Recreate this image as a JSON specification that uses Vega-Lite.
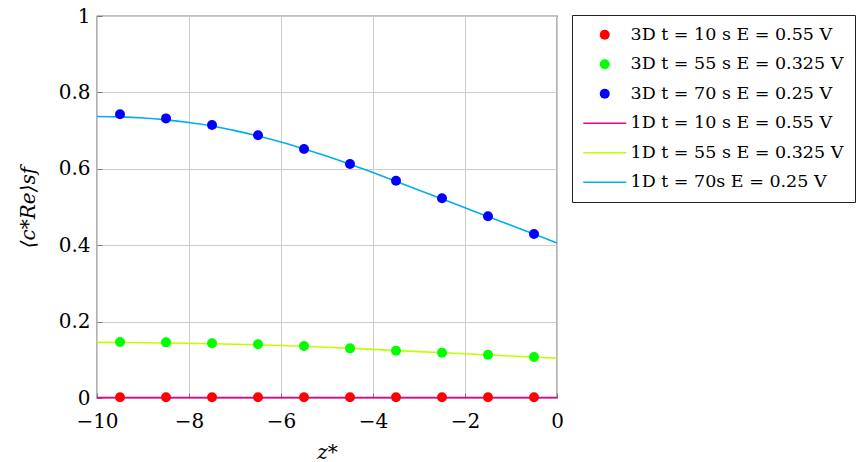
{
  "$schema": "https://vega.github.io/schema/vega-lite/v6.json",
  "width": 460,
  "height": 382,
  "autosize": {"type": "none"},
  "padding": {"left": 97, "top": 16, "right": 306, "bottom": 64},
  "background": "white",
  "config": {
    "view": {"stroke": "black", "strokeWidth": 1.2},
    "font": "DejaVu Serif",
    "axis": {
      "labelFont": "DejaVu Serif", "labelFontSize": 20, "labelColor": "black",
      "titleFont": "DejaVu Serif", "titleFontSize": 20, "titleColor": "black", "titleFontWeight": "normal", "titleFontStyle": "italic",
      "gridColor": "#cccccc", "gridWidth": 1, "gridOpacity": 1,
      "domain": false, "tickColor": "#777777", "tickSize": -5,
      "labelOverlap": false, "labelFlush": false
    }
  },
  "datasets": {
    "pts": [
      {"series": "3D t = 10 s E = 0.55 V", "z": -9.5, "c": 0.002},
      {"series": "3D t = 10 s E = 0.55 V", "z": -8.5, "c": 0.002},
      {"series": "3D t = 10 s E = 0.55 V", "z": -7.5, "c": 0.002},
      {"series": "3D t = 10 s E = 0.55 V", "z": -6.5, "c": 0.002},
      {"series": "3D t = 10 s E = 0.55 V", "z": -5.5, "c": 0.002},
      {"series": "3D t = 10 s E = 0.55 V", "z": -4.5, "c": 0.002},
      {"series": "3D t = 10 s E = 0.55 V", "z": -3.5, "c": 0.002},
      {"series": "3D t = 10 s E = 0.55 V", "z": -2.5, "c": 0.002},
      {"series": "3D t = 10 s E = 0.55 V", "z": -1.5, "c": 0.002},
      {"series": "3D t = 10 s E = 0.55 V", "z": -0.5, "c": 0.002},
      {"series": "3D t = 55 s E = 0.325 V", "z": -9.5, "c": 0.1466},
      {"series": "3D t = 55 s E = 0.325 V", "z": -8.5, "c": 0.1457},
      {"series": "3D t = 55 s E = 0.325 V", "z": -7.5, "c": 0.1431},
      {"series": "3D t = 55 s E = 0.325 V", "z": -6.5, "c": 0.1405},
      {"series": "3D t = 55 s E = 0.325 V", "z": -5.5, "c": 0.1361},
      {"series": "3D t = 55 s E = 0.325 V", "z": -4.5, "c": 0.1300},
      {"series": "3D t = 55 s E = 0.325 V", "z": -3.5, "c": 0.1239},
      {"series": "3D t = 55 s E = 0.325 V", "z": -2.5, "c": 0.1187},
      {"series": "3D t = 55 s E = 0.325 V", "z": -1.5, "c": 0.1134},
      {"series": "3D t = 55 s E = 0.325 V", "z": -0.5, "c": 0.1073},
      {"series": "3D t = 70 s E = 0.25 V", "z": -9.5, "c": 0.7427},
      {"series": "3D t = 70 s E = 0.25 V", "z": -8.5, "c": 0.7320},
      {"series": "3D t = 70 s E = 0.25 V", "z": -7.5, "c": 0.7147},
      {"series": "3D t = 70 s E = 0.25 V", "z": -6.5, "c": 0.6877},
      {"series": "3D t = 70 s E = 0.25 V", "z": -5.5, "c": 0.6518},
      {"series": "3D t = 70 s E = 0.25 V", "z": -4.5, "c": 0.6126},
      {"series": "3D t = 70 s E = 0.25 V", "z": -3.5, "c": 0.5689},
      {"series": "3D t = 70 s E = 0.25 V", "z": -2.5, "c": 0.5228},
      {"series": "3D t = 70 s E = 0.25 V", "z": -1.5, "c": 0.4756},
      {"series": "3D t = 70 s E = 0.25 V", "z": -0.5, "c": 0.4293}
    ],
    "lines": [
      {"series": "1D t = 10 s E = 0.55 V", "z": -10, "c": 0.001},
      {"series": "1D t = 10 s E = 0.55 V", "z": -5, "c": 0.001},
      {"series": "1D t = 10 s E = 0.55 V", "z": 0, "c": 0.001},
      {"series": "1D t = 55 s E = 0.325 V", "z": -10, "c": 0.1457},
      {"series": "1D t = 55 s E = 0.325 V", "z": -9, "c": 0.1447},
      {"series": "1D t = 55 s E = 0.325 V", "z": -8, "c": 0.1432},
      {"series": "1D t = 55 s E = 0.325 V", "z": -7, "c": 0.1408},
      {"series": "1D t = 55 s E = 0.325 V", "z": -6, "c": 0.1376},
      {"series": "1D t = 55 s E = 0.325 V", "z": -5, "c": 0.1330},
      {"series": "1D t = 55 s E = 0.325 V", "z": -4, "c": 0.1272},
      {"series": "1D t = 55 s E = 0.325 V", "z": -3, "c": 0.1213},
      {"series": "1D t = 55 s E = 0.325 V", "z": -2, "c": 0.1158},
      {"series": "1D t = 55 s E = 0.325 V", "z": -1, "c": 0.1100},
      {"series": "1D t = 55 s E = 0.325 V", "z": 0, "c": 0.1040},
      {"series": "1D t = 70s E = 0.25 V", "z": -10, "c": 0.737},
      {"series": "1D t = 70s E = 0.25 V", "z": -9.5, "c": 0.736},
      {"series": "1D t = 70s E = 0.25 V", "z": -9, "c": 0.733},
      {"series": "1D t = 70s E = 0.25 V", "z": -8.5, "c": 0.728},
      {"series": "1D t = 70s E = 0.25 V", "z": -8, "c": 0.721},
      {"series": "1D t = 70s E = 0.25 V", "z": -7.5, "c": 0.712},
      {"series": "1D t = 70s E = 0.25 V", "z": -7, "c": 0.700},
      {"series": "1D t = 70s E = 0.25 V", "z": -6.5, "c": 0.686},
      {"series": "1D t = 70s E = 0.25 V", "z": -6, "c": 0.670},
      {"series": "1D t = 70s E = 0.25 V", "z": -5.5, "c": 0.652},
      {"series": "1D t = 70s E = 0.25 V", "z": -5, "c": 0.633},
      {"series": "1D t = 70s E = 0.25 V", "z": -4.5, "c": 0.612},
      {"series": "1D t = 70s E = 0.25 V", "z": -4, "c": 0.590},
      {"series": "1D t = 70s E = 0.25 V", "z": -3.5, "c": 0.567},
      {"series": "1D t = 70s E = 0.25 V", "z": -3, "c": 0.544},
      {"series": "1D t = 70s E = 0.25 V", "z": -2.5, "c": 0.521},
      {"series": "1D t = 70s E = 0.25 V", "z": -2, "c": 0.498},
      {"series": "1D t = 70s E = 0.25 V", "z": -1.5, "c": 0.475},
      {"series": "1D t = 70s E = 0.25 V", "z": -1, "c": 0.452},
      {"series": "1D t = 70s E = 0.25 V", "z": -0.5, "c": 0.429},
      {"series": "1D t = 70s E = 0.25 V", "z": 0, "c": 0.406}
    ]
  },
  "encoding": {
    "x": {"field": "z", "type": "quantitative",
      "scale": {"domain": [-10, 0], "nice": false, "zero": false},
      "axis": {"title": "z*", "values": [-10, -8, -6, -4, -2, 0], "labelPadding": 18, "titlePadding": 11}},
    "y": {"field": "c", "type": "quantitative",
      "scale": {"domain": [0, 1], "nice": false},
      "axis": {"title": "⟨c*Re⟩sf", "values": [0, 0.2, 0.4, 0.6, 0.8, 1], "format": "~g", "labelPadding": 12, "titlePadding": 20}},
    "color": {"field": "series", "type": "nominal",
      "scale": {
        "domain": ["3D t = 10 s E = 0.55 V", "3D t = 55 s E = 0.325 V", "3D t = 70 s E = 0.25 V", "1D t = 10 s E = 0.55 V", "1D t = 55 s E = 0.325 V", "1D t = 70s E = 0.25 V"],
        "range": ["#ff0000", "#00ff00", "#0000ff", "#ec008c", "#bfff00", "#00aeef"]
      },
      "legend": {
        "orient": "none", "legendX": 475, "legendY": -1,
        "title": null,
        "strokeColor": "#222222", "fillColor": "white",
        "padding": 11, "rowPadding": 10.5,
        "labelFont": "DejaVu Serif", "labelFontSize": 17.5, "labelColor": "black", "labelLimit": 400,
        "symbolSize": 100, "symbolOffset": 13, "labelOffset": 17,
        "encode": {"symbols": {"update": {
          "shape": {"signal": "datum.index < 3 ? 'circle' : 'M-4.3,0H4.3'"},
          "fill": {"scale": "color", "field": "value"},
          "fillOpacity": {"signal": "datum.index < 3 ? 1 : 0"},
          "stroke": {"scale": "color", "field": "value"},
          "strokeWidth": {"signal": "datum.index < 3 ? 0 : 1.6"},
          "opacity": {"value": 1}
        }}}
      }
    }
  },
  "layer": [
    {"data": {"name": "lines"}, "mark": {"type": "line", "interpolate": "monotone", "strokeWidth": 1.6}},
    {"data": {"name": "pts"}, "mark": {"type": "point", "filled": true, "shape": "circle", "size": 100, "opacity": 1}}
  ]
}
